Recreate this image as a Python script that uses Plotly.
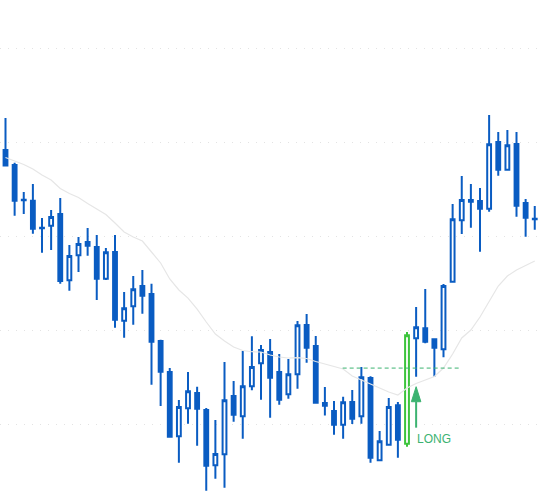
import plotly.graph_objects as go

# ---- data ----
bar_index = list(range(59))
open_ = [39.15, 37.55, 33.85, 33.75, 30.87, 31.10, 32.34, 25.29, 27.95, 29.36,
         28.83, 25.46, 28.30, 20.99, 22.52, 24.68, 23.83, 18.83, 15.53, 8.69,
         11.67, 13.30, 11.49, 5.61, 6.78, 12.98, 10.82, 14.01, 16.46, 17.66,
         15.53, 13.16, 15.29, 20.53, 18.30, 12.23, 11.38, 9.93, 12.34, 10.82,
         14.89, 6.14, 7.80, 11.99, 7.90, 19.12, 20.18, 19.01, 17.95, 25.14,
         31.67, 33.83, 33.72, 32.90, 40.00, 37.05, 39.79, 33.51, 31.83]
high = [42.55, 37.80, 34.68, 35.53, 31.91, 32.77, 34.04, 29.04, 29.89, 30.85,
        30.11, 28.72, 30.11, 24.04, 25.74, 26.38, 24.93, 18.97, 15.96, 12.55,
        15.53, 13.97, 11.70, 10.43, 16.60, 14.57, 17.77, 19.33, 18.40, 19.04,
        17.45, 16.91, 20.96, 21.70, 19.36, 13.94, 12.45, 12.90, 13.62, 16.06,
        15.07, 9.26, 12.77, 12.34, 19.79, 22.45, 24.36, 19.09, 24.89, 33.40,
        36.38, 35.53, 35.11, 42.87, 41.06, 41.28, 41.06, 33.94, 33.19]
low = [37.45, 32.16, 32.34, 30.24, 28.22, 28.51, 24.93, 24.18, 26.17, 27.90,
       23.19, 25.32, 20.24, 19.18, 20.56, 21.73, 14.18, 11.91, 8.60, 5.88,
       10.03, 7.69, 2.90, 4.18, 3.22, 10.24, 8.44, 13.59, 12.59, 10.67,
       12.05, 12.69, 13.76, 16.52, 12.20, 10.90, 8.86, 8.44, 10.00, 10.03,
       5.88, 6.12, 7.69, 6.41, 7.59, 15.03, 18.58, 15.03, 17.10, 25.03,
       30.21, 30.88, 28.33, 32.58, 36.41, 37.02, 32.05, 29.93, 30.67]
close = [37.50, 33.75, 33.81, 30.78, 30.83, 32.02, 25.21, 27.87, 29.15, 28.97,
         25.46, 28.27, 21.10, 22.31, 24.33, 23.65, 18.76, 15.56, 8.65, 11.81,
         13.48, 11.63, 5.56, 6.81, 12.52, 10.99, 14.01, 16.06, 17.87, 14.93,
         12.59, 15.29, 20.50, 18.12, 12.27, 11.95, 9.93, 12.31, 10.56, 14.97,
         6.41, 8.16, 11.81, 8.33, 19.44, 20.29, 18.76, 18.12, 24.68, 31.78,
         33.83, 33.65, 32.90, 39.75, 37.05, 39.65, 33.22, 31.95, 31.79]
moving_avg = [38.35, 37.98, 37.61, 37.13, 36.49, 35.96, 35.05, 34.52, 34.10, 33.46,
              32.87, 32.29, 31.38, 30.43, 29.89, 29.47, 28.30, 27.13, 25.43, 24.26,
              23.40, 22.23, 20.85, 19.57, 18.83, 18.19, 17.82, 17.69, 17.66, 17.34,
              17.13, 17.02, 17.07, 16.97, 16.65, 16.38, 16.12, 15.85, 15.11, 14.68,
              14.20, 13.78, 13.40, 13.09, 13.83, 14.31, 14.68, 15.05, 15.96, 17.45,
              19.15, 20.00, 21.38, 23.09, 24.68, 25.74, 26.38, 26.86, 27.34]

signal_bar = 44            # highlighted long-entry candle
signal_label = "LONG"
entry_level = 15.95        # dashed level line
level_start, level_end = 36.95, 49.8
arrow_bar = 45
arrow_tip, arrow_base, arrow_tail = 13.97, 12.37, 9.61
label_y = 8.40

BLUE = "#0a5cc2"
GREEN_CANDLE = "#3cc43c"
GREEN = "#3cb371"

main_idx = [i for i in bar_index if i != signal_bar]

fig = go.Figure()

fig.add_trace(go.Scatter(
    x=bar_index, y=moving_avg, mode="lines",
    line=dict(color="#e6e6e6", width=1.2), hoverinfo="skip", showlegend=False))

fig.add_trace(go.Candlestick(
    x=[bar_index[i] for i in main_idx],
    open=[open_[i] for i in main_idx],
    high=[high[i] for i in main_idx],
    low=[low[i] for i in main_idx],
    close=[close[i] for i in main_idx],
    increasing=dict(line=dict(color=BLUE, width=2), fillcolor="white"),
    decreasing=dict(line=dict(color=BLUE, width=2), fillcolor=BLUE),
    whiskerwidth=0, showlegend=False))

fig.add_trace(go.Candlestick(
    x=[bar_index[signal_bar]],
    open=[open_[signal_bar]], high=[high[signal_bar]],
    low=[low[signal_bar]], close=[close[signal_bar]],
    increasing=dict(line=dict(color=GREEN_CANDLE, width=2), fillcolor="white"),
    decreasing=dict(line=dict(color=GREEN_CANDLE, width=2), fillcolor="white"),
    whiskerwidth=0, showlegend=False))

# dashed entry level
fig.add_shape(type="line", x0=level_start, x1=level_end, y0=entry_level, y1=entry_level,
              xref="x", yref="y", line=dict(color=GREEN, width=1, dash="4px,3px"))
# arrow
fig.add_shape(type="line", x0=arrow_bar, x1=arrow_bar, y0=arrow_tail, y1=arrow_base,
              xref="x", yref="y", line=dict(color=GREEN, width=2))
fig.add_shape(type="path", xref="x", yref="y",
              path=f"M {arrow_bar-0.52},{arrow_base} L {arrow_bar},{arrow_tip} L {arrow_bar+0.52},{arrow_base} Z",
              fillcolor=GREEN, line=dict(color=GREEN, width=1))
fig.add_annotation(x=arrow_bar, y=label_y, text=signal_label, showarrow=False,
                   xanchor="left", yanchor="middle", xshift=-1,
                   font=dict(family="Liberation Sans, Arial", size=12, color=GREEN))

fig.update_layout(
    width=540, height=500, margin=dict(l=0, r=0, t=0, b=0),
    paper_bgcolor="white", plot_bgcolor="white", boxgap=0.4,
    xaxis=dict(range=[-0.603, 58.575], showgrid=False, zeroline=False,
               showticklabels=False, rangeslider=dict(visible=False), fixedrange=True),
    yaxis=dict(range=[1.915, 55.11], tick0=0, dtick=10, showgrid=True,
               gridcolor="#e3e3e3", griddash="1px,7px", gridwidth=1,
               zeroline=False, showticklabels=False, fixedrange=True),
    showlegend=False,
)

fig.write_html("out.html", config={"displayModeBar": False},
               post_script="document.body.style.margin='0';")
